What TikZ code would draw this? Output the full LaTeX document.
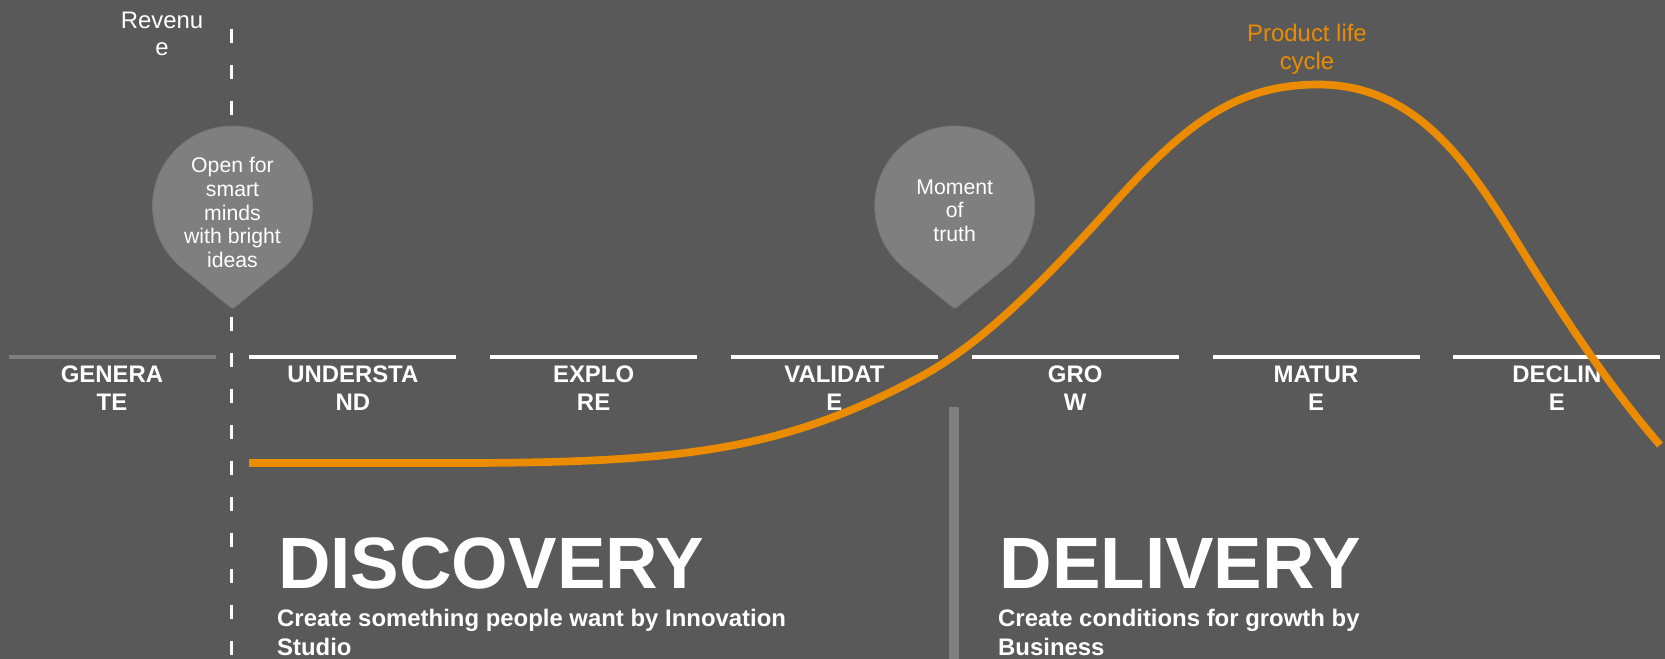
\documentclass[tikz,border=0pt]{standalone}
\usepackage{fontspec}
\setmainfont{Liberation Sans}

\definecolor{bg}{RGB}{89,89,89}
\definecolor{midgray}{RGB}{127,127,127}
\definecolor{balloonedge}{RGB}{116,116,116}
\definecolor{lifeorange}{RGB}{235,140,0}

\tikzset{
  stageline/.style={line width=4.3bp, white},
  stagegray/.style={line width=4.3bp, midgray},
  stagelabel/.style={anchor=base, align=center, inner sep=0pt, text=white,
    font=\fontsize{24}{28}\selectfont\bfseries},
  axisline/.style={white, line width=3.3bp, dash pattern=on 14bp off 22bp},
  balloon/.style={fill=midgray, draw=balloonedge, line width=0.8bp},
  balloontext/.style={anchor=base, align=center, inner sep=0pt, text=white,
    font=\fontsize{21.3}{23.8}\selectfont},
  plaintext/.style={anchor=base, align=center, inner sep=0pt, text=white,
    font=\fontsize{24}{28}\selectfont},
  bigtitle/.style={anchor=base west, inner sep=0pt, text=white,
    font=\fontsize{73}{80}\selectfont\bfseries},
  subtitle/.style={anchor=base west, align=left, inner sep=0pt, text=white,
    font=\fontsize{24}{28.5}\selectfont\bfseries},
  lifecurve/.style={lifeorange, line width=7.7bp},
  separator/.style={midgray, line width=10bp},
  droplet/.pic={
    \filldraw[balloon] (129:80) -- (-4.66,99.2) .. controls (0,103) .. (4.66,99.2)
      -- (51:80) arc[start angle=51, end angle=-231, radius=80] -- cycle;
  }
}

\begin{document}
\begin{tikzpicture}[x=1bp, y=-1bp]
  % canvas
  \fill[bg] (0,0) rectangle (1665,659);
  \useasboundingbox (0,0) rectangle (1665,659);

  % revenue axis (multi-line nodes are placed by the baseline of their last line)
  \coordinate (axistop) at (231.7,29);
  \coordinate (axisbot) at (231.7,662);
  \draw[axisline] (axistop) -- (axisbot);
  \node[plaintext] (revenue) at (162,56) {Revenu\\e};

  % stage bars and labels
  \draw[stagegray] (8.5,357) -- ++(207,0);
  \foreach \i in {1,...,6}
    \draw[stageline] ({8.5+240.8*\i},357) -- ++(207,0);
  \foreach \i/\nm/\ta/\tb in {0/generate/GENERA/TE, 1/understand/UNDERSTA/ND,
      2/explore/EXPLO/RE, 3/validate/VALIDAT/E, 4/grow/GRO/W,
      5/mature/MATUR/E, 6/decline/DECLIN/E}
    \node[stagelabel] (\nm) at ({112+240.8*\i},410) {\ta\\\tb};

  % discovery / delivery separator
  \coordinate (septop) at (954,406.7);
  \coordinate (sepbot) at (954,662);
  \draw[separator] (septop) -- (sepbot);

  % balloons
  \pic at (232.5,206) {droplet};
  \node[balloontext] (openminds) at (232.5,267.7)
    {Open for\\smart\\minds\\with bright\\ideas};
  \pic at (954.7,206) {droplet};
  \node[balloontext] (truth) at (954.7,241.7) {Moment\\of\\truth};

  % product life cycle curve
  \draw[lifecurve] (249,463) -- (456,463)
    .. controls (686,463) and (785,449.2) .. (920,377)
    .. controls (986,341.7) and (1051,273.3) .. (1117,200)
    .. controls (1187,122.3) and (1238,84.5) .. (1318,84.5)
    .. controls (1418,84.5) and (1470,166) .. (1520,247)
    .. controls (1567,323.1) and (1613,391) .. (1660,445);
  \node[plaintext, text=lifeorange] (plc) at (1307,69.3) {Product life\\cycle};

  % phase titles
  \node[bigtitle] (discovery) at (278,588) {DISCOVERY};
  \node[subtitle] (discsub) at (277,655)
    {Create something people want by Innovation\\Studio};
  \node[bigtitle] (delivery) at (999.5,588) {DELIVERY};
  \node[subtitle] (delsub) at (998,655)
    {Create conditions for growth by\\Business};
\end{tikzpicture}
\end{document}
